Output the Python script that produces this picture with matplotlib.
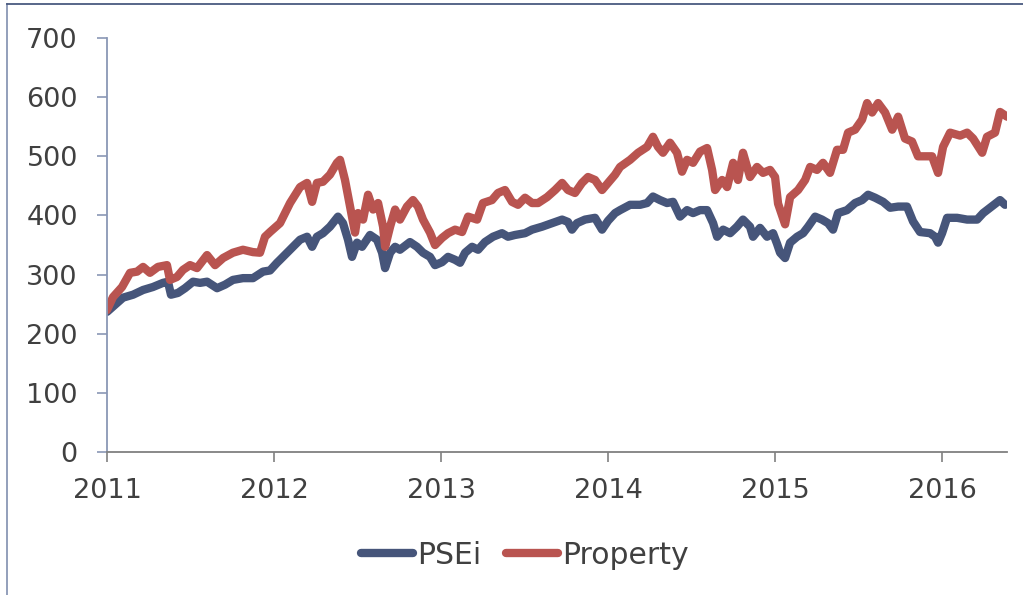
import matplotlib
matplotlib.use("Agg")
import matplotlib.pyplot as plt
from matplotlib.lines import Line2D

# ---- data ----
psei_years = [2011.000, 2011.048, 2011.096, 2011.156, 2011.216, 2011.275, 2011.335, 2011.365, 2011.383, 2011.425,
              2011.467, 2011.515, 2011.557, 2011.599, 2011.659, 2011.707, 2011.754, 2011.814, 2011.874, 2011.934,
              2011.976, 2012.018, 2012.036, 2012.096, 2012.156, 2012.198, 2012.228, 2012.257, 2012.293, 2012.335,
              2012.383, 2012.413, 2012.443, 2012.467, 2012.497, 2012.527, 2012.575, 2012.617, 2012.647, 2012.665,
              2012.695, 2012.725, 2012.754, 2012.814, 2012.856, 2012.892, 2012.934, 2012.964, 2013.006, 2013.042,
              2013.084, 2013.114, 2013.144, 2013.186, 2013.222, 2013.263, 2013.311, 2013.365, 2013.401, 2013.443,
              2013.503, 2013.545, 2013.605, 2013.665, 2013.725, 2013.760, 2013.784, 2013.814, 2013.862, 2013.922,
              2013.964, 2014.000, 2014.042, 2014.072, 2014.132, 2014.192, 2014.234, 2014.269, 2014.311, 2014.353,
              2014.389, 2014.431, 2014.473, 2014.509, 2014.551, 2014.593, 2014.629, 2014.653, 2014.689, 2014.731,
              2014.772, 2014.808, 2014.850, 2014.868, 2014.910, 2014.952, 2014.988, 2015.012, 2015.030, 2015.060,
              2015.090, 2015.132, 2015.168, 2015.198, 2015.240, 2015.281, 2015.317, 2015.347, 2015.377, 2015.431,
              2015.479, 2015.521, 2015.557, 2015.599, 2015.647, 2015.689, 2015.737, 2015.790, 2015.826, 2015.868,
              2015.928, 2015.958, 2015.976, 2016.000, 2016.030, 2016.090, 2016.150, 2016.210, 2016.246, 2016.287,
              2016.347, 2016.377]
psei_values = [237, 249, 261, 266, 274, 279, 286, 288, 266, 269,
               277, 288, 286, 288, 277, 283, 291, 294, 294, 305,
               307, 320, 325, 342, 359, 364, 347, 364, 370, 381,
               398, 387, 359, 330, 354, 347, 367, 359, 337, 311,
               337, 347, 342, 355, 347, 337, 330, 316, 321, 330,
               325, 320, 337, 347, 342, 355, 364, 370, 364, 367,
               370, 376, 381, 387, 393, 389, 376, 387, 393, 396,
               376, 391, 404, 409, 418, 418, 421, 432, 426, 421,
               423, 398, 409, 404, 409, 409, 387, 364, 376, 370,
               381, 393, 381, 364, 379, 364, 370, 352, 337, 328,
               354, 364, 370, 381, 398, 393, 387, 376, 404, 409,
               421, 426, 435, 430, 423, 413, 415, 415, 390, 372,
               370, 364, 354, 370, 396, 396, 393, 393, 404, 413,
               426, 418]

prop_years = [2011.000, 2011.036, 2011.090, 2011.138, 2011.180, 2011.216, 2011.257, 2011.305, 2011.359, 2011.377,
              2011.419, 2011.455, 2011.497, 2011.539, 2011.599, 2011.647, 2011.695, 2011.754, 2011.814, 2011.874,
              2011.916, 2011.946, 2011.976, 2012.036, 2012.096, 2012.156, 2012.198, 2012.228, 2012.257, 2012.293,
              2012.335, 2012.377, 2012.395, 2012.425, 2012.455, 2012.485, 2012.503, 2012.533, 2012.563, 2012.593,
              2012.623, 2012.653, 2012.665, 2012.695, 2012.725, 2012.754, 2012.796, 2012.832, 2012.862, 2012.892,
              2012.934, 2012.964, 2013.006, 2013.042, 2013.084, 2013.126, 2013.162, 2013.216, 2013.251, 2013.305,
              2013.341, 2013.383, 2013.425, 2013.461, 2013.503, 2013.545, 2013.581, 2013.635, 2013.683, 2013.725,
              2013.760, 2013.802, 2013.844, 2013.880, 2013.922, 2013.964, 2014.000, 2014.042, 2014.072, 2014.132,
              2014.180, 2014.234, 2014.269, 2014.299, 2014.329, 2014.371, 2014.413, 2014.443, 2014.473, 2014.509,
              2014.551, 2014.593, 2014.623, 2014.641, 2014.683, 2014.713, 2014.749, 2014.778, 2014.808, 2014.850,
              2014.892, 2014.928, 2014.970, 2015.000, 2015.018, 2015.042, 2015.060, 2015.090, 2015.138, 2015.180,
              2015.210, 2015.251, 2015.287, 2015.329, 2015.371, 2015.407, 2015.437, 2015.479, 2015.521, 2015.551,
              2015.581, 2015.617, 2015.659, 2015.701, 2015.737, 2015.778, 2015.820, 2015.856, 2015.898, 2015.940,
              2015.976, 2016.006, 2016.048, 2016.108, 2016.150, 2016.186, 2016.240, 2016.269, 2016.317, 2016.347,
              2016.389]
prop_values = [240, 262, 279, 303, 305, 313, 303, 313, 316, 291,
               296, 308, 316, 311, 333, 316, 328, 337, 342, 338,
               337, 364, 372, 387, 421, 448, 455, 423, 455, 457,
               469, 489, 494, 460, 415, 371, 404, 393, 435, 410,
               421, 381, 347, 381, 410, 393, 415, 426, 415, 393,
               371, 350, 362, 370, 376, 372, 398, 393, 421, 426,
               438, 443, 423, 418, 430, 421, 421, 431, 443, 455,
               443, 438, 455, 465, 460, 443, 455, 469, 482, 494,
               506, 516, 533, 516, 506, 523, 506, 474, 494, 489,
               508, 514, 477, 443, 460, 448, 489, 460, 506, 465,
               482, 472, 477, 465, 420, 400, 385, 431, 443, 460,
               482, 477, 489, 472, 511, 511, 540, 545, 562, 590,
               574, 590, 574, 545, 567, 530, 525, 500, 500, 500,
               472, 516, 540, 535, 540, 530, 506, 533, 540, 575,
               567]

year_ticks = [2011, 2012, 2013, 2014, 2015, 2016]
y_ticks = [0, 100, 200, 300, 400, 500, 600, 700]

# ---- style ----
BLUE = "#46557A"
RED = "#B95450"
TXT = "#404040"
plt.rcParams["font.family"] = ["DejaVu Sans"]

fig = plt.figure(figsize=(10.23, 5.95), dpi=100)
ax = fig.add_axes([0.1046, 0.2403, 0.8798, 0.6958])

ax.plot(psei_years, psei_values, color=BLUE, lw=6, solid_capstyle="round",
        solid_joinstyle="round", label="PSEi")
ax.plot(prop_years, prop_values, color=RED, lw=6, solid_capstyle="round",
        solid_joinstyle="round", label="Property")

ax.set_xlim(2011, 2016.389)
ax.set_ylim(0, 700)
ax.set_xticks(year_ticks)
ax.set_xticklabels([str(y) for y in year_ticks])
ax.set_yticks(y_ticks)

for s in ["top", "right"]:
    ax.spines[s].set_visible(False)
ax.spines["left"].set_color("#8A97B5")
ax.spines["left"].set_linewidth(1.3)
ax.spines["bottom"].set_color("#808080")
ax.spines["bottom"].set_linewidth(1.3)

ax.tick_params(axis="y", direction="out", length=7, width=1.2, color="#8A97B5",
               labelsize=19.5, labelcolor=TXT, pad=14)
ax.tick_params(axis="x", direction="out", length=7, width=1.2, color="#808080",
               labelsize=19.5, labelcolor=TXT, pad=12)

leg = ax.legend(loc="center", bbox_to_anchor=(0.513, 0.067), bbox_transform=fig.transFigure,
                ncol=2, frameon=False, fontsize=21.5, handlelength=1.75, handletextpad=0.12,
                columnspacing=0.85, labelcolor=TXT)
for h in leg.get_lines():
    h.set_linewidth(6)
    h.set_solid_capstyle("round")

# outer frame (left and top edges visible)
fx = 7 / 1023
fy = 1 - 4 / 595
fig.add_artist(Line2D([fx, fx], [0, fy], transform=fig.transFigure, color="#8A97B5", lw=1.3))
fig.add_artist(Line2D([fx, 1], [fy, fy], transform=fig.transFigure, color="#4A5A80", lw=1.3))

fig.savefig("out.png", dpi=100)
